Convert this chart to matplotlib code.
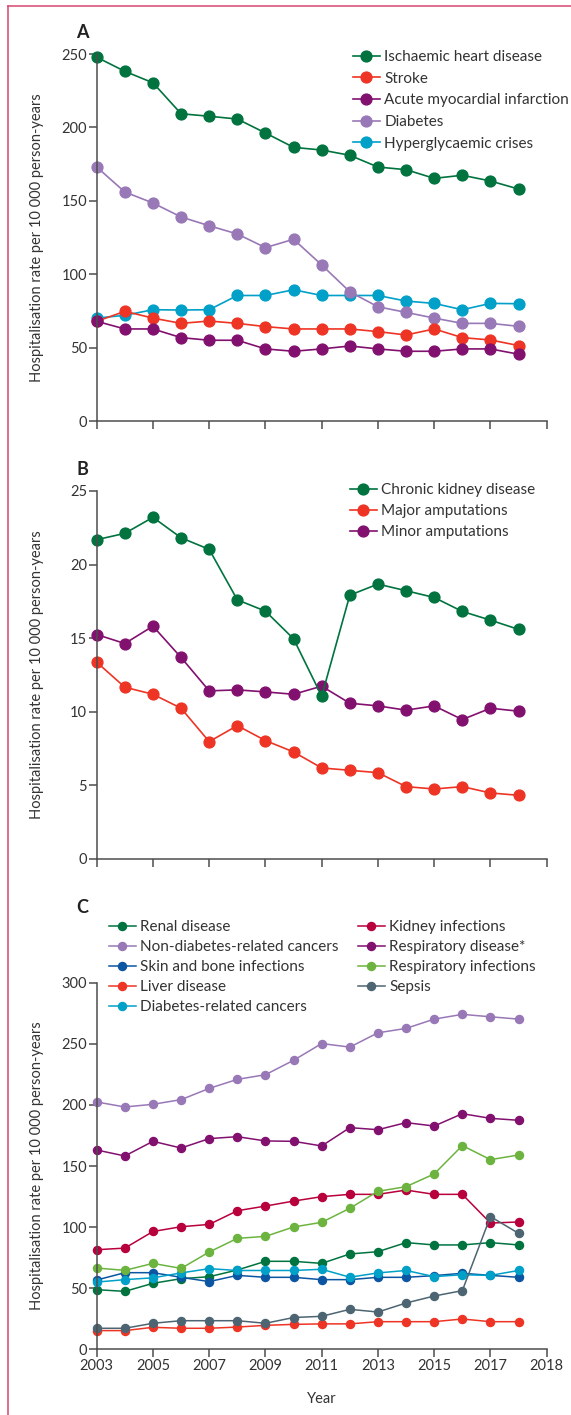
import matplotlib
matplotlib.use("Agg")
import matplotlib.pyplot as plt
from matplotlib.lines import Line2D

plt.rcParams['font.family'] = ['Lato', 'DejaVu Sans']

W, H = 571, 1415
TEXT = '#333333'
AXIS = '#4d4d4d'

years = list(range(2003, 2019))
xticks = [2003, 2005, 2007, 2009, 2011, 2013, 2015, 2017, 2019]
xticklabels = ['2003', '2005', '2007', '2009', '2011', '2013', '2015', '2017', '2018']

# panel A: cardiovascular and diabetes
ihd = [247.8, 238.2, 230.4, 209.3, 207.6, 205.7, 196.2, 186.4, 184.6, 181.0, 173.0, 171.2, 165.3, 167.4, 163.5, 158.0]
stroke = [67.9, 74.7, 70.1, 66.5, 68.1, 66.5, 64.3, 62.7, 62.7, 62.7, 60.9, 58.6, 62.7, 56.8, 55.2, 51.4]
ami = [67.9, 62.7, 62.7, 56.8, 55.0, 55.0, 49.1, 47.5, 49.1, 51.1, 49.1, 47.5, 47.5, 49.1, 49.1, 45.5]
diabetes = [173.0, 156.0, 148.5, 139.0, 133.0, 127.4, 118.1, 123.8, 106.3, 88.0, 77.8, 74.0, 70.1, 66.5, 66.5, 64.5]
hyper = [70.1, 72.0, 75.8, 75.6, 75.8, 85.5, 85.5, 89.4, 85.5, 85.5, 85.5, 81.7, 80.1, 75.8, 80.1, 79.9]

# panel B: kidney disease and amputations
ckd = [21.69, 22.12, 23.21, 21.82, 21.03, 17.60, 16.83, 14.95, 11.05, 17.92, 18.67, 18.22, 17.76, 16.81, 16.22, 15.59]
major_amp = [13.36, 11.66, 11.18, 10.23, 7.96, 9.05, 8.03, 7.26, 6.17, 6.01, 5.85, 4.90, 4.74, 4.90, 4.47, 4.31]
minor_amp = [15.24, 14.63, 15.81, 13.68, 11.41, 11.48, 11.34, 11.18, 11.73, 10.57, 10.39, 10.10, 10.39, 9.46, 10.23, 10.03]

# panel C: other causes
renal = [48.8, 47.4, 54.0, 57.8, 59.4, 64.9, 72.0, 72.0, 70.3, 78.0, 79.9, 87.3, 85.4, 85.4, 87.3, 85.4]
non_dm_cancer = [202.4, 198.3, 200.5, 204.3, 213.5, 220.9, 224.7, 236.5, 250.2, 247.3, 259.0, 262.6, 270.2, 274.1, 272.1, 270.2]
skin_bone = [56.7, 62.7, 62.7, 58.9, 55.4, 60.5, 58.9, 58.9, 57.0, 57.0, 58.9, 58.9, 60.3, 62.2, 60.5, 58.9]
liver = [15.3, 15.3, 18.0, 17.2, 17.2, 18.2, 19.6, 20.4, 20.8, 20.8, 22.6, 22.6, 22.6, 24.8, 22.6, 22.6]
dm_cancer = [55.0, 57.0, 58.5, 62.5, 66.0, 64.5, 64.5, 64.5, 65.5, 59.0, 62.5, 64.5, 59.5, 61.0, 60.5, 64.5]
kidney_inf = [81.5, 82.8, 96.4, 100.3, 102.2, 113.4, 117.2, 121.3, 124.9, 126.8, 126.8, 130.3, 126.8, 126.8, 103.3, 104.2]
resp_disease = [163.1, 158.2, 170.2, 164.7, 172.4, 174.0, 170.5, 170.2, 166.4, 181.4, 179.7, 185.5, 182.7, 192.8, 189.0, 187.4]
resp_inf = [66.5, 64.6, 70.3, 66.2, 79.6, 90.8, 92.4, 100.1, 103.9, 115.4, 129.3, 133.1, 143.5, 166.7, 155.2, 159.0]
sepsis = [17.2, 17.2, 21.3, 23.4, 23.4, 23.4, 21.3, 26.0, 27.0, 32.7, 30.5, 37.9, 43.6, 48.0, 108.6, 94.9]

GREEN = '#00733f'
RED = '#ee3424'
PURPLE = '#82106f'
LAVENDER = '#9878b6'
CYAN = '#00a0c8'
BLUE = '#0b55a2'
CRIMSON = '#b8003c'
LIGHTGREEN = '#6cb43f'
SLATE = '#4d6572'


def px_axes(fig, left, top, right, bottom):
    return fig.add_axes([left / W, 1 - bottom / H, (right - left) / W, (bottom - top) / H])


def style_axes(ax, ymax, ystep, show_xlabels):
    ax.set_xlim(2003, 2019)
    ax.set_ylim(0, ymax)
    ax.set_yticks(range(0, ymax + 1, ystep))
    ax.set_xticks(xticks)
    if show_xlabels:
        ax.set_xticklabels(xticklabels)
    else:
        ax.set_xticklabels([])
    for s in ['top', 'right']:
        ax.spines[s].set_visible(False)
    for s in ['left', 'bottom']:
        ax.spines[s].set_color(AXIS)
        ax.spines[s].set_linewidth(1.1)
    ax.tick_params(direction='out', length=5.5, width=1.1, color=AXIS,
                   labelsize=10.5, labelcolor=TEXT, pad=1.5)
    ax.set_ylabel('Hospitalisation rate per 10 000 person-years', fontsize=10.5, color=TEXT)
    ax.yaxis.set_label_coords(-0.118, 0.5)


def draw(ax, values, color, label, ms, lw):
    ax.plot(years, values, color=color, marker='o', markersize=ms, linewidth=lw,
            label=label, clip_on=False)


def legend_at(ax, handles, x, y, spacing=0.4):
    leg = ax.legend(handles=handles, loc='upper left',
                    bbox_to_anchor=(x / W, 1 - y / H), bbox_transform=ax.figure.transFigure,
                    frameon=False, fontsize=11, borderpad=0, borderaxespad=0,
                    handlelength=1.75, handletextpad=0.3, labelspacing=spacing)
    for t in leg.get_texts():
        t.set_color(TEXT)
    return leg


fig = plt.figure(figsize=(W / 100, H / 100), dpi=100)

# frame lines along the top and left edge
fig.add_artist(Line2D([8 / W, 1], [1 - 6 / H, 1 - 6 / H], color='#d9466f', linewidth=1.1))
fig.add_artist(Line2D([8 / W, 8 / W], [1 - 6 / H, 0], color='#d9466f', linewidth=1.1))

# A
axA = px_axes(fig, 96.7, 54, 546.7, 421)
style_axes(axA, 250, 50, False)
for vals, col, lab in [(hyper, CYAN, 'Hyperglycaemic crises'), (diabetes, LAVENDER, 'Diabetes'),
                       (stroke, RED, 'Stroke'), (ami, PURPLE, 'Acute myocardial infarction'),
                       (ihd, GREEN, 'Ischaemic heart disease')]:
    draw(axA, vals, col, lab, 7.8, 1.2)
handles, labels = axA.get_legend_handles_labels()
order = ['Ischaemic heart disease', 'Stroke', 'Acute myocardial infarction', 'Diabetes', 'Hyperglycaemic crises']
legend_at(axA, [handles[labels.index(l)] for l in order], 353, 50, spacing=0.5)
fig.text(76 / W, 1 - 38 / H, 'A', fontsize=13, fontweight='bold', color='#222222')

# B
axB = px_axes(fig, 96.7, 491, 546.7, 858.7)
style_axes(axB, 25, 5, False)
draw(axB, major_amp, RED, 'Major amputations', 7.8, 1.2)
draw(axB, minor_amp, PURPLE, 'Minor amputations', 7.8, 1.2)
draw(axB, ckd, GREEN, 'Chronic kidney disease', 7.8, 1.2)
handles, labels = axB.get_legend_handles_labels()
order = ['Chronic kidney disease', 'Major amputations', 'Minor amputations']
legend_at(axB, [handles[labels.index(l)] for l in order], 350, 483, spacing=0.47)
fig.text(76 / W, 1 - 475 / H, 'B', fontsize=13, fontweight='bold', color='#222222')

# C
axC = px_axes(fig, 96.7, 982.7, 546.7, 1349.3)
style_axes(axC, 300, 50, True)
seriesC = [
    (renal, GREEN, 'Renal disease'),
    (non_dm_cancer, LAVENDER, 'Non-diabetes-related cancers'),
    (skin_bone, BLUE, 'Skin and bone infections'),
    (liver, RED, 'Liver disease'),
    (dm_cancer, CYAN, 'Diabetes-related cancers'),
    (kidney_inf, CRIMSON, 'Kidney infections'),
    (resp_disease, PURPLE, 'Respiratory disease*'),
    (resp_inf, LIGHTGREEN, 'Respiratory infections'),
    (sepsis, SLATE, 'Sepsis'),
]
for vals, col, lab in seriesC:
    draw(axC, vals, col, lab, 5.8, 1.1)
handles, labels = axC.get_legend_handles_labels()
legC1 = legend_at(axC, handles[:5], 109, 920)
axC.add_artist(legC1)
legend_at(axC, handles[5:], 358, 920)
axC.set_xlabel('Year', fontsize=10.5, color=TEXT)
axC.xaxis.set_label_coords(0.5, -0.117)
axC.xaxis.label.set_va('top')
fig.text(76 / W, 1 - 913 / H, 'C', fontsize=13, fontweight='bold', color='#222222')

fig.savefig('out.png', dpi=100)
